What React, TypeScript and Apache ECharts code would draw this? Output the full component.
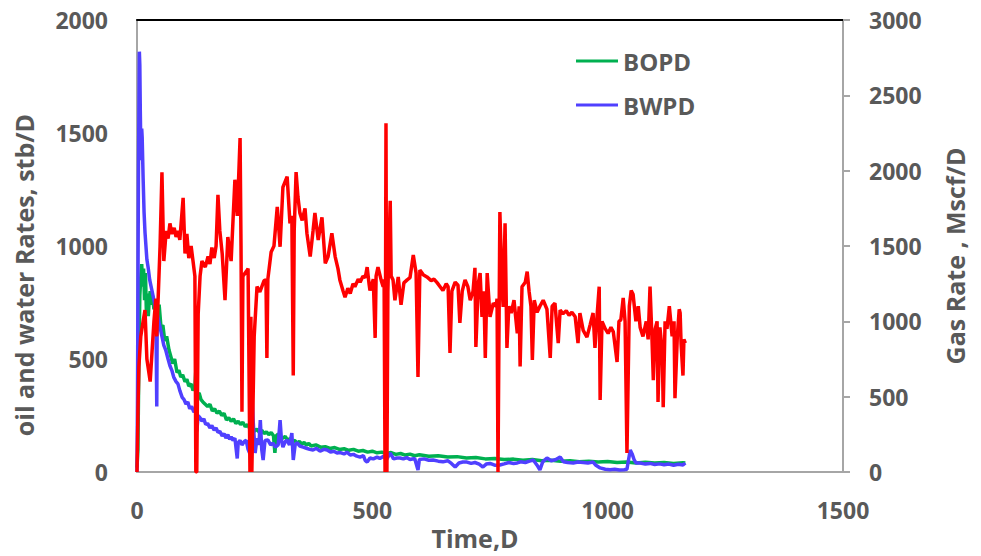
import React, { useEffect, useRef } from "react";
import * as echarts from "echarts";

const xTicks = [0, 500, 1000, 1500];
const leftTicks = [0, 500, 1000, 1500, 2000];
const rightTicks = [0, 500, 1000, 1500, 2000, 2500, 3000];
const seriesNames = ["BOPD", "BWPD", "Gas"];

const gasData: [number, number][] = [
  [0,0],[2,400],[4,700],[8,900],[13,1000],[17,1075],[21,750],[28,600],[32,800],[36,1000],[40,1150],[42,900],
  [49,1500],[53,1990],[57,1400],[62,1600],[66,1550],[70,1650],[74,1580],[79,1620],[83,1560],[87,1600],[91,1540],
  [98,1820],[102,1450],[106,1580],[110,1420],[115,1500],[119,1400],[123,1300],[125,0],[127,0],[130,1050],
  [134,1300],[138,1400],[145,1360],[151,1430],[155,1380],[159,1490],[164,1420],[168,1500],[172,1840],[176,1600],
  [181,1450],[187,1140],[193,1560],[200,1400],[208,1940],[213,1700],[219,2217],[221,1500],[223,400],[225,1300],
  [232,1330],[236,1350],[240,0],[242,1030],[244,0],[249,900],[255,1230],[261,1195],[270,1270],[274,1275],
  [276,757],[278,1280],[285,1460],[291,1500],[298,1760],[304,1495],[310,1890],[319,1960],[325,1650],[329,1700],
  [332,640],[334,1600],[338,1990],[342,1825],[346,1720],[351,1670],[357,1750],[361,1585],[368,1430],[374,1600],
  [378,1720],[385,1540],[393,1690],[400,1385],[406,1430],[414,1585],[421,1430],[427,1350],[431,1275],[438,1200],
  [442,1160],[448,1220],[453,1185],[459,1250],[463,1230],[470,1280],[474,1260],[480,1300],[485,1290],[489,1360],
  [493,1250],[495,1205],[502,1280],[506,890],[508,1300],[512,1360],[519,1270],[523,1230],[525,1280],[527,0],
  [529,2315],[531,0],[533,1200],[538,1800],[540,1300],[544,1275],[548,1140],[555,1295],[561,1110],[567,1255],
  [574,1275],[580,1290],[587,1440],[593,1320],[597,630],[601,1340],[608,1310],[616,1295],[625,1270],[631,1280],
  [638,1255],[644,1230],[650,1205],[657,1250],[661,1230],[665,790],[669,1200],[676,1260],[682,1240],[686,990],
  [691,1200],[697,1275],[703,1230],[708,1140],[714,1200],[718,1355],[720,830],[725,1250],[729,1320],[733,1030],
  [737,1200],[740,757],[744,1320],[750,1030],[757,1120],[763,1100],[765,1150],[767,0],[769,900],[771,1725],
  [776,1200],[778,1095],[782,1650],[786,823],[790,1100],[795,1055],[801,1140],[808,920],[812,1100],[814,700],
  [818,1230],[825,1260],[829,1330],[833,1200],[837,1100],[840,743],[844,1140],[850,1060],[856,1100],[863,1140],
  [871,1080],[878,757],[882,1100],[888,1120],[895,855],[899,1075],[905,1050],[912,1070],[918,1040],[924,1060],
  [931,1030],[937,855],[941,1055],[948,940],[956,895],[963,980],[969,1055],[973,823],[978,1060],[982,1230],
  [984,478],[988,1000],[995,950],[1001,920],[1007,960],[1012,930],[1020,730],[1024,1000],[1028,1010],[1033,1155],
  [1037,1000],[1041,126],[1046,1100],[1050,1205],[1054,1180],[1060,1000],[1065,1100],[1069,960],[1075,900],
  [1082,1000],[1086,880],[1090,1230],[1094,900],[1097,610],[1101,950],[1105,1000],[1107,465],[1111,960],
  [1116,800],[1118,430],[1122,1000],[1126,950],[1131,1100],[1137,900],[1141,1000],[1143,490],[1148,900],
  [1152,1080],[1154,1055],[1156,850],[1160,640],[1162,880],[1165,855]
];

const oilData: [number, number][] = [
  [0,20],[2,100],[4,500],[6,780],[8,860],[10,920],[12,820],[14,900],[16,760],[18,880],[20,700],[22,790],[24,690],
  [26,760],[28,800],[30,740],[33,780],[36,720],[40,760],[44,700],[47,740],[51,640],[55,650],[59,580],[63,600],
  [68,540],[72,510],[76,480],[80,500],[85,440],[89,450],[93,420],[97,430],[102,400],[106,410],[110,380],[115,390],
  [119,360],[123,380],[125,450],[127,340],[132,350],[136,320],[140,310],[145,300],[150,290],[155,300],[160,270],
  [165,280],[170,260],[175,270],[180,250],[185,260],[190,230],[195,240],[200,225],[205,235],[210,215],[215,225],
  [220,210],[225,220],[230,200],[235,210],[240,190],[245,200],[250,180],[255,190],[260,175],[265,185],[270,170],
  [275,178],[280,165],[285,175],[290,160],[293,85],[296,160],[300,168],[305,155],[310,150],[315,158],[320,140],
  [325,148],[330,135],[335,140],[340,128],[345,135],[350,125],[355,130],[360,120],[365,126],[370,115],[380,120],
  [390,110],[400,112],[410,104],[420,108],[430,100],[440,103],[450,96],[460,100],[470,92],[480,95],[490,88],
  [500,92],[510,85],[520,88],[530,82],[540,86],[550,78],[560,82],[570,75],[580,79],[590,72],[600,76],[620,70],
  [640,72],[660,66],[680,68],[700,62],[720,64],[740,58],[760,60],[780,55],[800,57],[820,52],[840,55],[860,50],
  [880,52],[900,48],[920,50],[940,45],[960,48],[980,44],[1000,46],[1020,42],[1040,44],[1060,40],[1080,43],
  [1100,40],[1120,42],[1140,38],[1160,41],[1165,40]
];

const waterData: [number, number][] = [
  [0,0],[1,300],[3,1300],[5,1860],[6,1800],[7,1600],[8,1450],[9,1380],[10,1520],[11,1480],[13,1300],[15,1150],
  [17,1060],[19,1000],[21,940],[24,900],[27,850],[30,820],[33,790],[36,760],[40,720],[42,290],[43,700],[45,680],
  [49,640],[53,600],[57,560],[61,540],[66,500],[70,470],[74,450],[78,420],[83,400],[87,390],[91,360],[96,330],
  [100,320],[104,300],[108,310],[112,280],[116,290],[121,265],[125,275],[127,180],[130,250],[134,240],[138,225],
  [142,235],[146,210],[150,215],[155,195],[159,205],[164,185],[168,195],[172,175],[176,180],[181,160],[185,170],
  [189,150],[193,165],[197,145],[200,155],[204,140],[208,150],[213,60],[215,130],[219,140],[223,120],[228,135],
  [232,140],[236,100],[240,80],[244,360],[247,220],[251,84],[255,150],[259,120],[262,230],[265,100],[268,53],
  [272,140],[278,142],[284,120],[289,128],[294,110],[300,120],[304,230],[307,140],[310,110],[315,135],[319,140],
  [324,120],[329,172],[332,53],[336,120],[340,130],[346,115],[353,110],[360,105],[367,100],[374,97],[381,105],
  [389,92],[397,100],[404,97],[411,88],[418,92],[425,84],[432,86],[440,80],[446,88],[453,75],[460,78],[467,70],
  [474,66],[481,72],[485,50],[489,44],[495,62],[502,58],[510,66],[516,60],[524,70],[530,55],[538,84],[545,58],
  [552,62],[559,62],[566,58],[573,64],[580,55],[590,60],[597,9],[600,55],[610,58],[620,52],[629,53],[640,48],
  [650,45],[660,50],[668,38],[676,22],[684,40],[692,44],[701,44],[710,38],[718,42],[727,35],[735,22],[742,35],
  [750,38],[760,30],[771,31],[780,36],[790,42],[800,38],[808,40],[815,45],[825,42],[834,48],[842,53],[850,30],
  [856,9],[862,45],[871,62],[880,50],[890,55],[899,66],[906,45],[915,42],[927,40],[937,44],[948,42],[958,40],
  [969,44],[975,30],[984,18],[995,12],[1005,10],[1015,12],[1025,9],[1035,10],[1041,12],[1044,50],[1048,97],
  [1052,80],[1056,55],[1060,40],[1069,40],[1080,35],[1090,38],[1100,33],[1110,36],[1120,32],[1130,35],[1140,30],
  [1150,34],[1160,31],[1165,40]
];

const TXT = "#595959";
const FONT = "'Open Sans', sans-serif";

export default function App() {
  const ref = useRef<HTMLDivElement>(null);
  useEffect(() => {
    if (!ref.current) return;
    const chart = echarts.init(ref.current, null, { renderer: "svg" });
    const plain = (v: number) => String(v);
    const labelStyle = { color: TXT, fontSize: 23, fontWeight: "bold" as const, fontFamily: FONT, formatter: plain };
    chart.setOption({
      animation: false,
      backgroundColor: "#fff",
      grid: { left: 137, right: 138, top: 20, bottom: 84 },
      legend: {
        data: [seriesNames[0], seriesNames[1]],
        orient: "vertical",
        left: 571,
        top: 44,
        icon: "rect",
        itemWidth: 42,
        itemHeight: 3,
        itemGap: 20,
        textStyle: { color: TXT, fontSize: 24, fontWeight: "bold", fontFamily: FONT },
      },
      graphic: [
        { type: "text", x: 475, y: 538, style: { text: "Time,D", fill: TXT, font: `bold 25px ${FONT}`, align: "center", verticalAlign: "middle" } },
        { type: "text", x: 24, y: 275, rotation: Math.PI / 2, style: { text: "oil and water Rates, stb/D", fill: TXT, font: `bold 25px ${FONT}`, align: "center", verticalAlign: "middle" } },
        { type: "text", x: 955, y: 256, rotation: Math.PI / 2, style: { text: "Gas Rate , Mscf/D", fill: TXT, font: `bold 25px ${FONT}`, align: "center", verticalAlign: "middle" } },
      ],
      xAxis: [
        {
          type: "value", min: xTicks[0], max: xTicks[xTicks.length - 1], interval: 500,
          axisLine: { show: true, onZero: false, lineStyle: { color: "#a6a6a6", width: 2 } },
          axisTick: { show: false }, splitLine: { show: false },
          axisLabel: { ...labelStyle, margin: 26 },
        },
        {
          type: "value", position: "top", min: xTicks[0], max: xTicks[xTicks.length - 1],
          axisLine: { show: true, onZero: false, lineStyle: { color: "#000", width: 2 } },
          axisTick: { show: false }, splitLine: { show: false }, axisLabel: { show: false },
        },
      ],
      yAxis: [
        {
          type: "value", min: leftTicks[0], max: leftTicks[leftTicks.length - 1], interval: 500,
          axisLine: { show: true, onZero: false, lineStyle: { color: "#a6a6a6", width: 2 } },
          axisTick: { show: false }, splitLine: { show: false },
          axisLabel: { ...labelStyle, margin: 29 },
        },
        {
          type: "value", position: "right", min: rightTicks[0], max: rightTicks[rightTicks.length - 1], interval: 500,
          axisLine: { show: true, onZero: false, lineStyle: { color: "#a6a6a6", width: 2 } },
          axisTick: { show: true, inside: false, length: 7, lineStyle: { color: "#a6a6a6", width: 2 } },
          splitLine: { show: false },
          axisLabel: { ...labelStyle, margin: 26 },
        },
      ],
      series: [
        { name: seriesNames[0], type: "line", xAxisIndex: 0, yAxisIndex: 0, data: oilData, showSymbol: false, color: "#00b050", lineStyle: { width: 3.5, color: "#00b050" } },
        { name: seriesNames[1], type: "line", xAxisIndex: 0, yAxisIndex: 0, data: waterData, showSymbol: false, color: "#5040ff", lineStyle: { width: 3.5, color: "#5040ff" } },
        { name: seriesNames[2], type: "line", xAxisIndex: 0, yAxisIndex: 1, data: gasData, showSymbol: false, color: "#ff0000", lineStyle: { width: 3.5, color: "#ff0000" } },
      ],
    });
    return () => chart.dispose();
  }, []);
  return <div ref={ref} style={{ position: "fixed", left: 0, top: 0, width: 981, height: 556 }} />;
}
